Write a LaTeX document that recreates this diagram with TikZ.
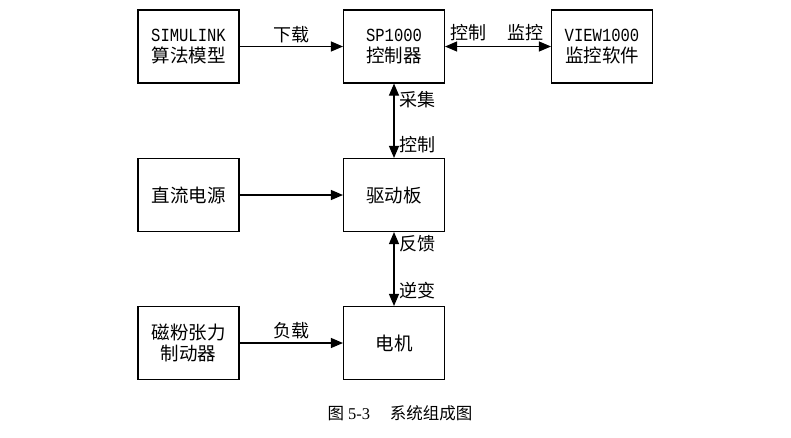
\documentclass[tikz,border=0pt]{standalone}
\usepackage{fontspec}
\setmainfont{Liberation Serif}
\newfontfamily\cjk{Noto Sans CJK SC}
\newfontfamily\mono[FakeStretch=0.84]{Liberation Mono}
\usetikzlibrary{arrows.meta}
\begin{document}
\begin{tikzpicture}[x=1pt,y=-1pt,
  box/.style={draw,line width=1.1pt,minimum width=101pt,minimum height=73pt,align=center,inner sep=0pt,font=\fontsize{18.5}{22}\selectfont},
  conn/.style={line width=1.1pt,-{Triangle[length=12pt,width=10pt]}},
  both/.style={line width=1.1pt,{Triangle[length=12pt,width=10pt]}-{Triangle[length=12pt,width=10pt]}},
  lab/.style={font=\fontsize{18}{20}\selectfont\cjk,inner sep=1pt}]
\useasboundingbox (0,0) rectangle (791,437);
\node[box] (sim) at (188.5,46.5) {{\mono SIMULINK}\\[-1pt]{\cjk 算法模型}};
\node[box] (sp) at (394,46.5) {{\mono SP1000}\\[-1pt]{\cjk 控制器}};
\node[box] (view) at (602,46.5) {{\mono VIEW1000}\\[-1pt]{\cjk 监控软件}};
\node[box] (dc) at (188.5,195) {\cjk 直流电源};
\node[box] (drv) at (394,195) {\cjk 驱动板};
\node[box] (mag) at (188.5,343) {{\cjk 磁粉张力}\\[-1pt]{\cjk 制动器}};
\node[box] (mot) at (394,343) {\cjk 电机};
\draw[conn] (sim) -- node[lab,above=2pt] {下载} (sp);
\draw[both] (sp) -- (view);
\node[lab] (l1) at (468,33) {控制};
\node[lab] (l2) at (525,33) {监控};
\draw[both] (sp) -- (drv);
\node[lab,anchor=west] (l3) at (398,100) {采集};
\node[lab,anchor=west] (l4) at (398,145) {控制};
\draw[conn] (dc) -- (drv);
\draw[both] (drv) -- (mot);
\node[lab,anchor=west] (l5) at (398,244) {反馈};
\node[lab,anchor=west] (l6) at (398,291) {逆变};
\draw[conn] (mag) -- node[lab,above=2pt] {负载} (mot);
\node[font=\fontsize{16.5}{18}\selectfont] (cap) at (400,413) {{\cjk 图} 5-3\hspace{1.2em}{\cjk 系统组成图}};
\end{tikzpicture}
\end{document}
